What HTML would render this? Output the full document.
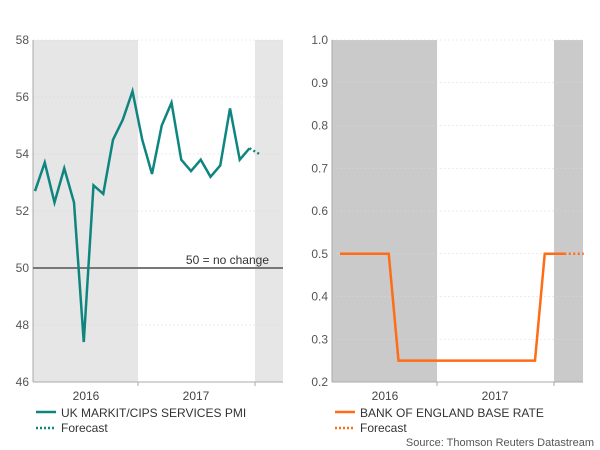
<!DOCTYPE html>
<html><head><meta charset="utf-8"><style>
body{margin:0;background:#fff}
svg{display:block;font-family:"Liberation Sans",sans-serif}
</style></head><body>
<svg id="c" width="600" height="450" viewBox="0 0 600 450">
<g id="left"></g>
<g id="right"></g>
<text x="594" y="446" text-anchor="end" font-size="11" fill="#555">Source: Thomson Reuters Datastream</text>
</svg>
<script>
const pmiValues=[52.7,53.7,52.3,53.5,52.3,47.4,52.9,52.6,54.5,55.2,56.2,54.5,53.3,55.0,55.8,53.8,53.4,53.8,53.2,53.6,55.6,53.8,54.2];
const pmiForecast=[54.2,54.0];
const pmiTicks=[46,48,50,52,54,56,58];
const rateValues=[0.5,0.5,0.5,0.5,0.5,0.5,0.25,0.25,0.25,0.25,0.25,0.25,0.25,0.25,0.25,0.25,0.25,0.25,0.25,0.25,0.25,0.5,0.5,0.5];
const rateForecast=[0.5,0.5,0.5];
const rateTicks=[0.2,0.3,0.4,0.5,0.6,0.7,0.8,0.9,1.0];
const yearLabels=["2016","2017"];
const NS="http://www.w3.org/2000/svg";
function el(p,t,a){const e=document.createElementNS(NS,t);for(const k in a)e.setAttribute(k,a[k]);p.appendChild(e);return e;}
function draw(g,o){
  const {x0,x1,y0,y1,min,max,ticks,fmt,shade,vals,fc,color,startX,step,ref,name,label}=o;
  const ys=v=>y1-(v-min)/(max-min)*(y1-y0);
  const xs=i=>startX+i*step;
  let r=el(g,'rect',{x:x0,y:y0,width:138-33,height:y1-y0,fill:shade});
  
  r=el(g,'rect',{x:x0+222,y:y0,width:x1-x0-222,height:y1-y0,fill:shade});
  
  ticks.forEach(t=>{
    const y=ys(t);
    const gl=el(g,'line',{x1:x0,x2:x1,y1:y,y2:y,stroke:'#d8d8d8','stroke-width':0.6,'stroke-dasharray':'2,2'});
    
    const tx=el(g,'text',{x:x0-4,y:y+4,'text-anchor':'end','font-size':12,fill:'#555'});
    tx.textContent=fmt(t);
    
  });
  let a=el(g,'line',{x1:x0,x2:x0,y1:y0,y2:y1,stroke:'#aaa','stroke-width':1});
  
  a=el(g,'line',{x1:x0,x2:x1,y1:y1,y2:y1,stroke:'#aaa','stroke-width':1});
  
  [x0+105,x0+222].forEach(x=>{const t=el(g,'line',{x1:x,x2:x,y1:y1,y2:y1+4,stroke:'#aaa'});
    });
  yearLabels.forEach((l,i)=>{const t=el(g,'text',{x:x0+[53,163][i],y:y1+18,'text-anchor':'middle','font-size':12,fill:'#444'});
    t.textContent=l;});
  if(ref!==undefined){
    const l=el(g,'line',{x1:x0,x2:x1,y1:ys(ref),y2:ys(ref),stroke:'#777','stroke-width':2});
    
    const t=el(g,'text',{x:x1-14,y:ys(ref)-4,'text-anchor':'end','font-size':12,fill:'#333'});
    t.textContent='50 = no change';
  }
  const p=el(g,'polyline',{points:vals.map((v,i)=>xs(i)+','+ys(v)).join(' '),fill:'none',stroke:color,'stroke-width':2.5,'stroke-linejoin':'miter'});
  
  const n=vals.length-1;
  const f=el(g,'polyline',{points:fc.map((v,i)=>xs(n+i)+','+ys(v)).join(' '),fill:'none',stroke:color,'stroke-width':2.5,'stroke-dasharray':'2,2.5'});
  
  const lg=el(g,'line',{x1:x0+3,x2:x0+23,y1:412,y2:412,stroke:color,'stroke-width':2.5});
  
  const lf=el(g,'line',{x1:x0+3,x2:x0+23,y1:428,y2:428,stroke:color,'stroke-width':2.5,'stroke-dasharray':'2,2'});
  
  let t=el(g,'text',{x:x0+28,y:417,'font-size':12,fill:'#333'});t.textContent=label;
  
  t=el(g,'text',{x:x0+28,y:432,'font-size':12,fill:'#333'});t.textContent='Forecast';
  
}
draw(document.getElementById('left'),{x0:33,x1:283,y0:40,y1:382,min:46,max:58,ticks:pmiTicks,fmt:t=>String(t),shade:'#e6e6e6',vals:pmiValues,fc:pmiForecast,color:'#0f8580',startX:35,step:9.75,ref:50,name:'pmi',label:'UK MARKIT/CIPS SERVICES PMI'});
draw(document.getElementById('right'),{x0:332,x1:583,y0:40,y1:382,min:0.2,max:1.0,ticks:rateTicks,fmt:t=>t.toFixed(1),shade:'#cacaca',vals:rateValues,fc:rateForecast,color:'#ff6c14',startX:340,step:9.75,name:'boe-rate',label:'BANK OF ENGLAND BASE RATE'});
</script>
</body></html>
